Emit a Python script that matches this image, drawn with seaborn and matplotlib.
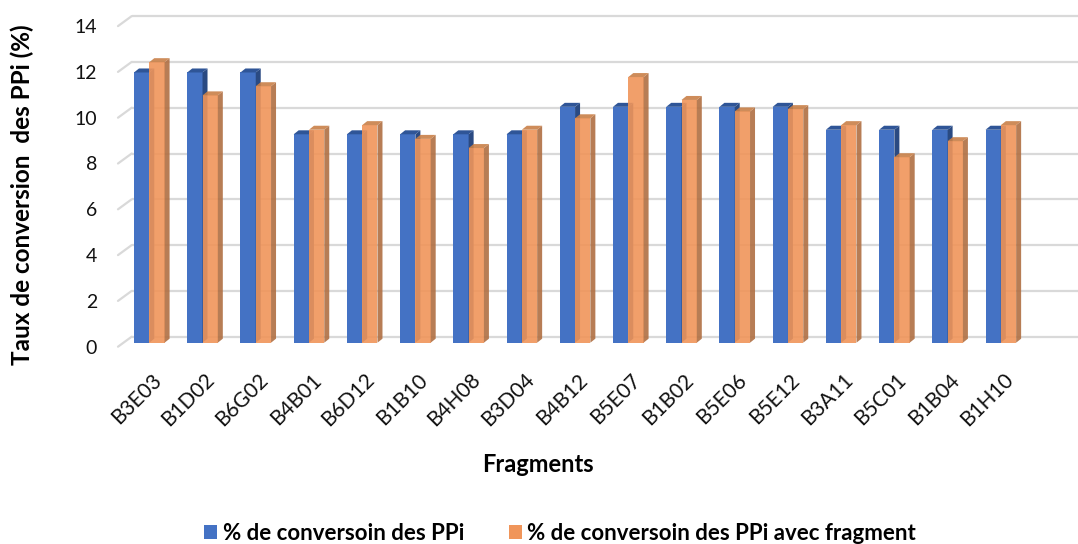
import matplotlib
matplotlib.use("Agg")
import pandas as pd
import seaborn as sns
import matplotlib.pyplot as plt
from matplotlib.patches import Polygon, Patch
from matplotlib.transforms import ScaledTranslation

# ---- data ----
fragments = ["B3E03", "B1D02", "B6G02", "B4B01", "B6D12", "B1B10", "B4H08", "B3D04",
             "B4B12", "B5E07", "B1B02", "B5E06", "B5E12", "B3A11", "B5C01", "B1B04", "B1H10"]
conv_ppi = [11.8, 11.8, 11.8, 9.1, 9.1, 9.1, 9.1, 9.1,
            10.3, 10.3, 10.3, 10.3, 10.3, 9.3, 9.3, 9.3, 9.3]
conv_ppi_fragment = [12.25, 10.8, 11.2, 9.3, 9.5, 8.9, 8.5, 9.3,
                     9.8, 11.6, 10.6, 10.1, 10.2, 9.5, 8.1, 8.8, 9.5]
series = ["% de conversoin des PPi", "% de conversoin des PPi avec fragment"]
y_ticks = [0, 2, 4, 6, 8, 10, 12, 14]

# ---- style ----
W, H, DPI = 1078, 544, 100
BLUE, BLUE_TOP, BLUE_SIDE = "#4472C4", "#2F5597", "#2A4A82"
ORANGE, ORANGE_TOP, ORANGE_SIDE = "#F0955A", "#C98048", "#B06F42"
GRID = "#D9D9D9"

sns.set_theme(style="white")
plt.rcParams["font.family"] = ["Lato", "DejaVu Sans"]
plt.rcParams["text.color"] = "#000000"

df = pd.DataFrame({
    "Fragment": fragments * 2,
    "Taux": conv_ppi + conv_ppi_fragment,
    "Série": [series[0]] * len(fragments) + [series[1]] * len(fragments),
})

fig = plt.figure(figsize=(W / DPI, H / DPI), dpi=DPI)
ax_l, ax_r, ax_b, ax_t = 118, 1078, 342.7, 22.1   # axes box in pixels
ax = fig.add_axes([ax_l / W, 1 - ax_b / H, (ax_r - ax_l) / W, (ax_b - ax_t) / H])

sns.barplot(data=df, x="Fragment", y="Taux", hue="Série", palette=[BLUE, ORANGE],
            width=0.575, gap=0, saturation=1, errorbar=None, legend=False,
            ax=ax, linewidth=0)

x0, x1 = -0.588, 17.45
ax.set_xlim(x0, x1)
ax.set_ylim(0, 14)
for s in ax.spines.values():
    s.set_visible(False)
ax.grid(False)
ax.set_xlabel("")
ax.set_ylabel("")

# pixel -> data conversion
px_x = (x1 - x0) / (ax_r - ax_l)
px_y = 14 / (ax_b - ax_t)
dx, dy = 5 * px_x, 4 * px_y

# back-wall gridlines with the slanted floor edge on the left
back_x = x0 + (131.7 - ax_l) * px_x
for v in y_ticks:
    yb = v + 6 * px_y
    yf = v - 4 * px_y
    ax.plot([back_x, x1], [yb, yb], color=GRID, lw=1.6, zorder=1, clip_on=False,
            solid_capstyle="butt")
    ax.plot([x0, back_x], [yf, yb], color=GRID, lw=1.6, zorder=1, clip_on=False)

# pseudo-3D faces on each bar
def add_depth(bar, top_c, side_c, z, alpha=1.0):
    bx, bw, bh = bar.get_x(), bar.get_width(), bar.get_height()
    top = Polygon([(bx, bh), (bx + bw, bh), (bx + bw + dx, bh + dy), (bx + dx, bh + dy)],
                  closed=True, facecolor=top_c, edgecolor="none", zorder=z, alpha=alpha,
                  clip_on=False)
    side = Polygon([(bx + bw, 0), (bx + bw + dx, dy), (bx + bw + dx, bh + dy), (bx + bw, bh)],
                   closed=True, facecolor=side_c, edgecolor="none", zorder=z, alpha=alpha,
                   clip_on=False)
    ax.add_patch(side)
    ax.add_patch(top)

blue_bars, orange_bars = ax.containers[0], ax.containers[1]
for b in blue_bars:
    b.set_zorder(3)
    add_depth(b, BLUE_TOP, BLUE_SIDE, 3.5)
for b in orange_bars:
    b.set_zorder(4)
    b.set_alpha(0.9)
    add_depth(b, ORANGE_TOP, ORANGE_SIDE, 4.5, alpha=0.9)

# ticks
ax.set_yticks(y_ticks)
ax.set_yticklabels([str(v) for v in y_ticks])
ax.tick_params(axis="y", length=0, pad=15.1, labelsize=14, labelcolor="#111111")
for lab in ax.get_yticklabels():
    lab.set_transform(lab.get_transform() + ScaledTranslation(0, -4 / DPI, fig.dpi_scale_trans))

ax.set_xticks(range(len(fragments)))
ax.set_xticklabels(fragments)
ax.tick_params(axis="x", length=0, pad=19.4, labelsize=15, labelcolor="#111111")
for lab in ax.get_xticklabels():
    lab.set_rotation(45)
    lab.set_ha("right")
    lab.set_rotation_mode("anchor")
    lab.set_transform(lab.get_transform() + ScaledTranslation(2 / DPI, 0, fig.dpi_scale_trans))

# axis titles
fig.text(22 / W, 1 - 195 / H, "Taux de conversion  des PPi (%)", rotation=90,
         ha="center", va="center", fontsize=17.5, fontweight="bold")
fig.text(537.5 / W, 1 - 465 / H, "Fragments", ha="center", va="center",
         fontsize=17, fontweight="bold")

# legend
handles = [Patch(facecolor=BLUE, edgecolor="none"), Patch(facecolor=ORANGE, edgecolor="none")]
fig.legend(handles=handles, labels=series, loc="center", bbox_to_anchor=(560 / W, 1 - 533 / H),
           ncol=2, frameon=False, prop={"weight": "bold", "size": 16},
           handlelength=0.6, handleheight=0.6, handletextpad=0.25, columnspacing=2.0,
           borderaxespad=0, borderpad=0)

fig.savefig("out.png", dpi=DPI)
